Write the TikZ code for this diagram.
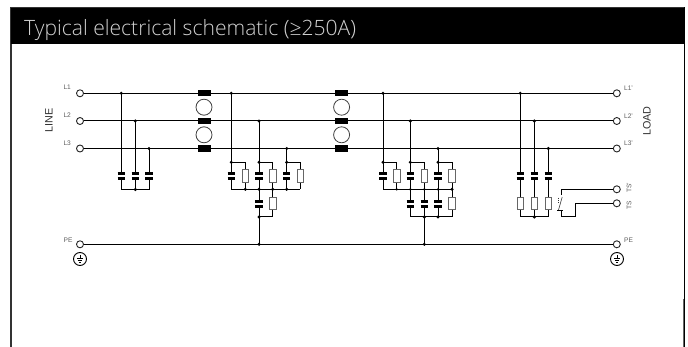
\documentclass[tikz,border=0pt]{standalone}
\usepackage{fontspec}
\setmainfont{Liberation Sans}
\newfontfamily\titlefont{Open Sans Light}
\definecolor{frameC}{HTML}{333333}
\definecolor{labelC}{HTML}{333333}
\tikzset{
  x=1pt,y=-1pt,
  wire/.style={line width=1pt,black},
  term/.style={circle,draw=black!85,line width=0.9pt,fill=white,minimum size=7pt,inner sep=0pt},
  dot/.style={circle,fill=black,minimum size=3.4pt,inner sep=0pt},
  smalldot/.style={circle,fill=black,minimum size=2.6pt,inner sep=0pt},
  choke/.style={rectangle,fill=black,minimum width=13pt,minimum height=6.4pt,inner sep=0pt},
  ring/.style={circle,draw=black!75,line width=0.8pt,fill=white,minimum size=16pt,inner sep=0pt},
  resistor/.style={rectangle,draw=black!60,line width=1pt,fill=white,minimum width=6.6pt,minimum height=12.8pt,inner sep=0pt},
  plate/.style={line width=2.4pt,black},
  lab/.style={font=\fontsize{6.6}{8}\selectfont,text=labelC!80,inner sep=0pt},
  biglab/.style={font=\fontsize{10.8}{12}\selectfont,text=labelC,inner sep=0pt,rotate=90},
  earth/.style={circle,draw=black,line width=0.9pt,fill=white,minimum size=13pt,inner sep=0pt}
}
\newcommand{\capat}[2]{%
  \fill[white] (#1-4,#2-2.3) rectangle (#1+4,#2+2.3);
  \draw[plate] (#1-3.7,#2-2.4) -- (#1+3.7,#2-2.4);
  \draw[plate] (#1-3.7,#2+2.4) -- (#1+3.7,#2+2.4);}
\newcommand{\earthsym}[3]{%
  \node[earth] (#3) at (#1,#2) {};
  \draw[line width=0.7pt] (#1,#2-4) -- (#1,#2)
    (#1-3.2,#2-0.5) -- (#1+3.2,#2-0.5) (#1-2.2,#2+1.2) -- (#1+2.2,#2+1.2) (#1-1.2,#2+2.9) -- (#1+1.2,#2+2.9);}
\begin{document}
\begin{tikzpicture}
\useasboundingbox (0,0) rectangle (688,347);
\fill[white] (0,0) rectangle (688,347);
% frame and header
\draw[frameC,line width=1.8pt] (10.9,347) -- (10.9,8) -- (684.4,8);
\draw[black,line width=1.1pt] (684.6,7.5) -- (684.6,347);
\draw[black!60,line width=1pt] (683.6,299) -- (683.6,347);
\fill[black] (11,8) rectangle (684.2,44);
\node[anchor=west,inner sep=0pt,text=black!18,font=\titlefont\fontsize{21.1}{25}\selectfont] (title) at (24,30) {Typical electrical schematic (≥250A)};
% terminals
\foreach \n/\y in {a/93.3,b/121,c/148.5,p/244.3}{
  \node[term] (l\n) at (80,\y) {};
  \node[term] (r\n) at (616.8,\y) {};
  \draw[wire] (l\n) -- (r\n);
}
\node[term] (tsa) at (616.8,189.3) {};
\node[term] (tsb) at (616.8,203.3) {};
% chokes
\foreach \x/\k in {204/m,341.6/n}{
  \foreach \y/\j in {93.3/a,121/b,148.5/c}{\node[choke] (\k\j) at (\x,\y) {};}
  \node[ring] (\k r1) at (\x,107.2) {};
  \node[ring] (\k r2) at (\x,134.8) {};
}
% group 1
\draw[wire] (121.3,93.3) -- (121.3,189.5) -- (149,189.5) -- (149,148.5);
\draw[wire] (135.3,121) -- (135.3,189.5);
\foreach \x in {121.3,135.3,149}{\capat{\x}{176}}
\foreach \x/\y in {121.3/93.3,135.3/121,149/148.5,135.3/189.5}{\node[dot] at (\x,\y) {};}
% group 2
\draw[wire] (231.3,93.3) -- (231.3,189.3) -- (300.3,189.3);
\draw[wire] (259,121) -- (259,244.3);
\draw[wire] (286.7,148.5) -- (286.7,189.3);
\foreach \a/\b in {231.3/245.3,259/272.7,286.7/300.3}{
  \draw[wire] (\a,162.3) -- (\b,162.3) -- (\b,189.3);
  \capat{\a}{176}
  \node[resistor] at (\b,176) {};
}
\draw[wire] (272.7,189.3) -- (272.7,217) -- (259,217);
\capat{259}{204}
\node[resistor] at (272.7,203.5) {};
\foreach \x/\y in {231.3/93.3,259/121,286.7/148.5,231.3/162.3,259/162.3,286.7/162.3,
  245.3/189.3,259/189.3,272.7/189.3,286.7/189.3,259/217,259/244.3}{\node[dot] at (\x,\y) {};}
% group 3
\draw[wire] (383,93.3) -- (383,189.3) -- (452,189.3);
\draw[wire] (410.3,121) -- (410.3,217) -- (452,217) -- (452,162.3) -- (438,162.3);
\draw[wire] (438,148.5) -- (438,217);
\draw[wire] (424.3,162.3) -- (410.3,162.3) (424.3,162.3) -- (424.3,244.3);
\draw[wire] (383,162.3) -- (396.7,162.3) -- (396.7,189.3);
\foreach \a/\b in {383/396.7,410.3/424.3,438/452}{
  \capat{\a}{176}
  \node[resistor] at (\b,176) {};
}
\foreach \x in {410.3,424.3,438}{\capat{\x}{204}}
\node[resistor] at (452,203.5) {};
\foreach \x/\y in {383/93.3,410.3/121,438/148.5,383/162.3,410.3/162.3,438/162.3,
  452/189.3,424.3/217,438/217,424.3/244.3}{\node[dot] at (\x,\y) {};}
\foreach \x in {396.7,410.3,424.3,438}{\node[smalldot] at (\x,189.3) {};}
% group 4
\draw[wire] (520.3,93.3) -- (520.3,217) -- (548.3,217) -- (548.3,148.5);
\draw[wire] (534.3,121) -- (534.3,217);
\foreach \x in {520.3,534.3,548.3}{
  \capat{\x}{176}
  \node[resistor] at (\x,203.5) {};
}
\foreach \x/\y in {520.3/93.3,534.3/121,548.3/148.5,534.3/217}{\node[dot] at (\x,\y) {};}
% switch
\coordinate (swa) at (561.3,195);
\coordinate (swb) at (561.3,210.7);
\draw[wire] (tsa) -- (561.3,189.3) -- (swa);
\draw[line width=0.6pt,black!80] (562.2,197) -- (558.5,210);
\draw[line width=1pt,black!80,densely dotted] (558.7,198) -- (558.7,203);
\draw[wire] (557.3,210.7) -- (563,210.7);
\draw[wire] (swb) -- (561.3,217) -- (575.3,217) -- (575.3,203.3) -- (tsb);
% earths
\earthsym{80}{259}{el}
\earthsym{617}{259}{er}
% labels
\node[lab] at (67.2,87.5) {L1};
\node[lab] at (67.2,115.5) {L2};
\node[lab] at (67.2,143) {L3};
\node[lab] at (68,240) {PE};
\node[lab] at (628.5,88) {L1'};
\node[lab] at (628.5,116) {L2'};
\node[lab] at (628.5,143) {L3'};
\node[lab] at (628.5,240.5) {PE};
\node[lab,rotate=90] at (629,188) {TS'};
\node[lab,rotate=90] at (629,205.5) {TS};
\node[biglab] at (49,120.5) {LINE};
\node[biglab] at (647,121) {LOAD};
\end{tikzpicture}
\end{document}
